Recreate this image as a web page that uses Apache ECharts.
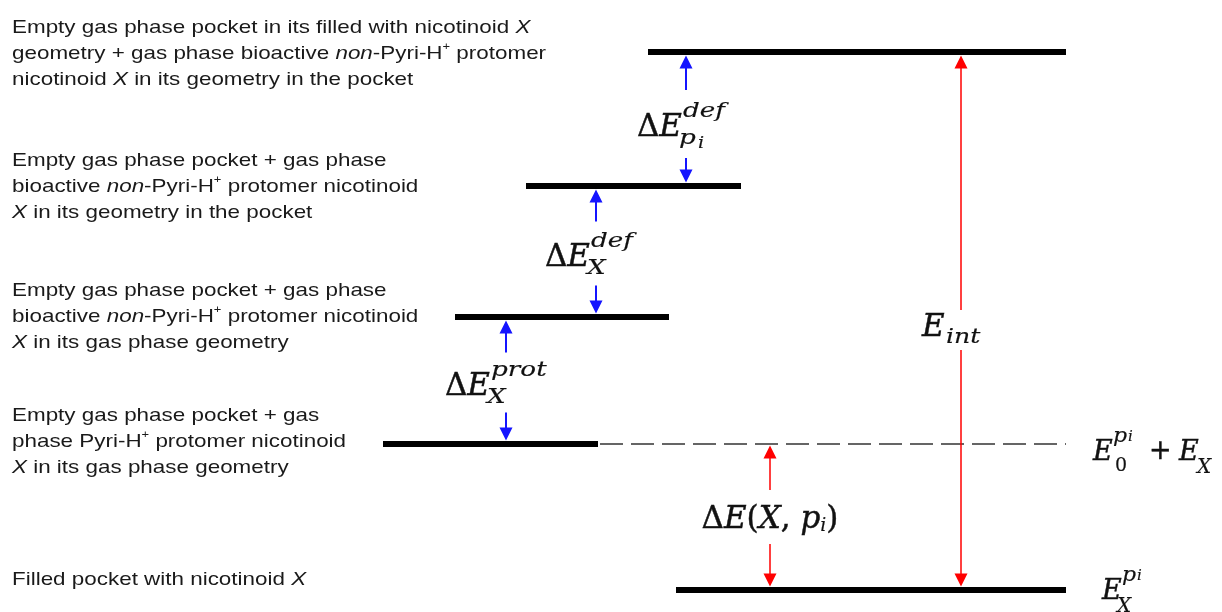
<!DOCTYPE html>
<html><head><meta charset="utf-8">
<script src="https://cdn.jsdelivr.net/npm/echarts@6/dist/echarts.min.js"></script>
<style>html,body{margin:0;padding:0;background:#fff}#c{width:1222px;height:612px}</style>
</head><body><div id="c"></div>
<script>
// ================= DATA =================
// Energy levels, top to bottom (relative energy, arbitrary units)
const levelNames = [
  'Empty gas phase pocket in its filled with nicotinoid {i|X}\ngeometry + gas phase bioactive {i|non}-Pyri-H{s|+} protomer\nnicotinoid {i|X} in its geometry in the pocket',
  'Empty gas phase pocket + gas phase\nbioactive {i|non}-Pyri-H{s|+} protomer nicotinoid\n{i|X} in its geometry in the pocket',
  'Empty gas phase pocket + gas phase\nbioactive {i|non}-Pyri-H{s|+} protomer nicotinoid\n{i|X} in its gas phase geometry',
  'Empty gas phase pocket + gas\nphase Pyri-H{s|+} protomer nicotinoid\n{i|X} in its gas phase geometry',
  'Filled pocket with nicotinoid {i|X}'
];
const levelEnergy = [538, 404, 273, 146, 0];
// Energy differences (arrows): from lower level index to upper level index
const gapNames = ['dE_def_p', 'dE_def_X', 'dE_prot_X', 'dE_X_p', 'E_int'];
const gapFrom = [1, 2, 3, 4, 4];
const gapTo   = [0, 1, 2, 3, 0];
// Reference level drawn dashed (E0^pi + EX) and bottom level (EX^pi)
const refLevel = 3;
const boundLevel = 4;

// ================= LAYOUT / STYLE =================
const levelSpan = [[648, 1066], [526, 741], [455, 669], [383, 598], [676, 1066]];
const dashSpan = [598, 1066];
const arrowX = [686, 596, 506, 770, 961];
const gapShift = [5, 2, 2, 0, 9];
const gapHalf = [34, 32, 30, 27, 20];
const topInset = [3.5, 3.5, 3.5, 1.5, 3.5];
const textX = 12;
const textShift = [2, 1, 0, -2, -10];
const INK = '#111';
const TXT = '#1a1a1a';
const BLUE = '#1414ff';
const RED = '#ff0000';
const SANS = '"Liberation Sans", Arial, sans-serif';
const SERIF = '"DejaVu Serif", serif';

function fnt(size, italic, extra) {
  return Object.assign({fontSize: size, fontFamily: SERIF, fontStyle: italic ? 'italic' : 'normal',
    fill: INK, stroke: INK, lineWidth: size > 24 ? 0.45 : 0.15}, extra || {});
}
function t(text, x, y, size, opts) {
  opts = opts || {};
  return {type: 'text', x: x, y: y, scaleX: opts.sx || 1,
    style: Object.assign(fnt(size, !opts.up), {text: text, align: opts.align || 'left', verticalAlign: 'middle'})};
}
function deltaLabel(cx, cy, dx, sup, sub, subsub) {
  const X0 = cx + dx, m = cy + 4;
  const out = [
    {type: 'text', x: X0, y: m, style: {text: '{u|Δ}{e|E}', rich: {u: fnt(31, false), e: fnt(31, true)}, align: 'right', verticalAlign: 'middle', fill: INK}},
    t(sup, X0 + 1, m - 16, 21, {sx: 1.25}),
    t(sub, X0 - 3, m + 11, 21, {sx: 1.25})
  ];
  if (subsub) out.push(t(subsub, X0 + 16, m + 16, 16, {sx: 1.2}));
  return out;
}
const labelBuilders = [
  (cx, cy) => deltaLabel(cx, cy, -4, 'def', 'p', 'i'),
  (cx, cy) => deltaLabel(cx, cy, -6, 'def', 'X'),
  (cx, cy) => deltaLabel(cx, cy, -16, 'prot', 'X'),
  (cx, cy) => [{type: 'text', x: cx, y: cy + 3, style: {
      text: '{u|Δ}{e|E}{u|(}{e|X}{u|, }{e|p}{s|i}{u|)}',
      rich: {u: fnt(31, false), e: fnt(31, true), s: fnt(19, true, {verticalAlign: 'bottom', lineHeight: 22})},
      align: 'center', verticalAlign: 'middle', fill: INK}}],
  (cx, cy) => [t('E', cx - 39, cy - 2, 31), t('int', cx - 15, cy + 8, 21, {sx: 1.2})]
];
function arrowPart(x, tailY, tipY, color, lw) {
  const dir = tipY > tailY ? 1 : -1;
  const HL = 13, HW = 6.5;
  const baseY = tipY - dir * HL;
  return [
    {type: 'line', shape: {x1: x, y1: tailY, x2: x, y2: baseY + dir}, style: {stroke: color, lineWidth: lw}},
    {type: 'polygon', shape: {points: [[x, tipY], [x - HW, baseY], [x + HW, baseY]]}, style: {fill: color}}
  ];
}

const chart = echarts.init(document.getElementById('c'), null, {renderer: 'canvas'});
chart.setOption({
  animation: false,
  backgroundColor: '#fff',
  grid: {left: 0, right: 0, top: 52, bottom: 22},
  xAxis: {type: 'value', min: 0, max: 1222, show: false},
  yAxis: {type: 'value', min: 0, max: 538, show: false},
  series: [
    { // levels
      type: 'custom', coordinateSystem: 'cartesian2d', clip: false,
      data: levelEnergy.map((e, i) => [levelSpan[i][0], levelSpan[i][1], e]),
      encode: {x: [0, 1], y: 2},
      renderItem: (params, api) => {
        const a = api.coord([api.value(0), api.value(2)]);
        const b = api.coord([api.value(1), api.value(2)]);
        return {type: 'line', shape: {x1: a[0], y1: a[1], x2: b[0], y2: b[1]}, style: {stroke: '#000', lineWidth: 6}};
      }
    },
    { // dashed reference level
      type: 'custom', coordinateSystem: 'cartesian2d', clip: false,
      data: [[dashSpan[0], dashSpan[1], levelEnergy[refLevel]]],
      encode: {x: [0, 1], y: 2},
      renderItem: (params, api) => {
        const a = api.coord([api.value(0), api.value(2)]);
        const b = api.coord([api.value(1), api.value(2)]);
        return {type: 'line', shape: {x1: a[0] + 2, y1: a[1], x2: b[0], y2: b[1]}, style: {stroke: '#333', lineWidth: 1.7, lineDash: [23, 8]}};
      }
    },
    { // arrows and labels
      type: 'custom', coordinateSystem: 'cartesian2d', clip: false,
      data: arrowX.map((x, i) => [x, levelEnergy[gapFrom[i]], levelEnergy[gapTo[i]], i]),
      encode: {x: 0, y: [1, 2]},
      renderItem: (params, api) => {
        const i = api.value(3);
        const lo = api.coord([api.value(0), api.value(1)]);
        const hi = api.coord([api.value(0), api.value(2)]);
        const x = lo[0];
        const color = i < 3 ? BLUE : RED;
        const lw = i < 3 ? 2 : 1.5;
        const cy = (lo[1] + hi[1]) / 2 + gapShift[i];
        const children = []
          .concat(arrowPart(x, cy - gapHalf[i], hi[1] + topInset[i], color, lw))
          .concat(arrowPart(x, cy + gapHalf[i], lo[1] - 3.5, color, lw))
          .concat(labelBuilders[i](x, cy));
        return {type: 'group', children: children};
      }
    },
    { // level descriptions
      type: 'custom', coordinateSystem: 'cartesian2d', clip: false,
      data: levelEnergy.map((e, i) => [textX, e, i]),
      encode: {x: 0, y: 1},
      renderItem: (params, api) => {
        const i = api.value(2);
        const p = api.coord([api.value(0), api.value(1)]);
        return {type: 'text', x: p[0], y: p[1] + textShift[i], scaleX: 1.18,
          style: {text: levelNames[i], fontSize: 19, fontFamily: SANS, lineHeight: 26, fill: TXT,
            align: 'left', verticalAlign: 'middle',
            rich: {
              i: {fontSize: 19, fontFamily: SANS, fontStyle: 'italic', fill: TXT, lineHeight: 26},
              s: {fontSize: 11, fontFamily: SANS, fill: TXT, lineHeight: 19, verticalAlign: 'top'}
            }}};
      }
    },
    { // right-hand energy labels
      type: 'custom', coordinateSystem: 'cartesian2d', clip: false,
      data: [[1093, levelEnergy[refLevel], 0], [1102, levelEnergy[boundLevel], 1]],
      encode: {x: 0, y: 1},
      renderItem: (params, api) => {
        const k = api.value(2);
        const p = api.coord([api.value(0), api.value(1)]);
        const x = p[0], y = p[1];
        let ch;
        if (k === 0) {
          ch = [t('E', x, y + 9, 27), t('p', x + 20, y - 7, 20, {sx: 1.1}), t('i', x + 35, y - 7, 15),
                t('0', x + 22, y + 22, 19, {up: true}), t('+', x + 56, y + 8, 27, {up: true}),
                t('E', x + 86, y + 9, 27), t('X', x + 104, y + 24, 20)];
        } else {
          ch = [t('E', x, y + 2, 27), t('p', x + 20, y - 14, 20, {sx: 1.1}), t('i', x + 35, y - 14, 15),
                t('X', x + 15, y + 17, 20)];
        }
        return {type: 'group', children: ch};
      }
    }
  ]
});
</script></body></html>
